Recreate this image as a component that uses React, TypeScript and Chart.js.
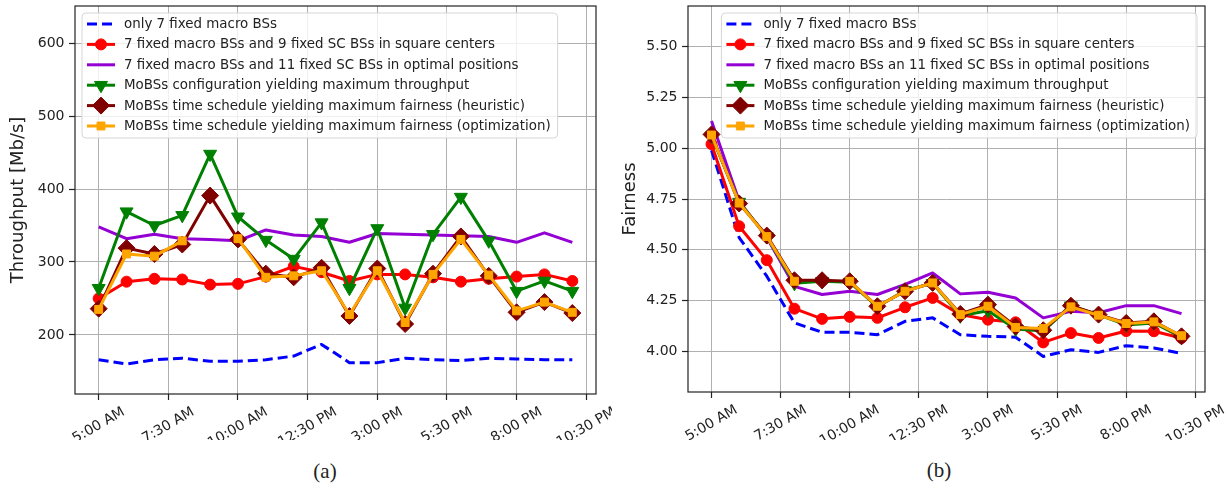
import React, { useEffect, useRef } from "react";
import { Chart, registerables } from "chart.js";

Chart.register(...registerables);

// ---------------- data ----------------
const HOURS = [5, 6, 7, 8, 9, 10, 11, 12, 13, 14, 15, 16, 17, 18, 19, 20, 21, 22];
const TICK_HOURS = [5, 7.5, 10, 12.5, 15, 17.5, 20, 22.5];
const TICK_LABELS = ["5:00 AM", "7:30 AM", "10:00 AM", "12:30 PM", "3:00 PM", "5:30 PM", "8:00 PM", "10:30 PM"];
const TP_TICKS = [200, 300, 400, 500, 600];
const FR_TICKS = [4.0, 4.25, 4.5, 4.75, 5.0, 5.25, 5.5];

const LABELS_A = [
  "only 7 fixed macro BSs",
  "7 fixed macro BSs and 9 fixed SC BSs in square centers",
  "7 fixed macro BSs and 11 fixed SC BSs in optimal positions",
  "MoBSs configuration yielding maximum throughput",
  "MoBSs time schedule yielding maximum fairness (heuristic)",
  "MoBSs time schedule yielding maximum fairness (optimization)",
];
const LABELS_B = [
  "only 7 fixed macro BSs",
  "7 fixed macro BSs and 9 fixed SC BSs in square centers",
  "7 fixed macro BSs an 11 fixed SC BSs in optimal positions",
  "MoBSs configuration yielding maximum throughput",
  "MoBSs time schedule yielding maximum fairness (heuristic)",
  "MoBSs time schedule yielding maximum fairness (optimization)",
];

// Throughput [Mb/s]
const TP_MACRO = [166, 160, 166, 168, 164, 164, 166, 171, 187, 162, 162, 168, 166, 165, 168, 167, 166, 166];
const TP_SQUARE = [250, 273, 277, 276, 269, 270, 280, 294, 286, 274, 283, 283, 279, 273, 277, 280, 283, 274];
const TP_OPTIMAL = [348, 332, 338, 332, 331, 329, 344, 337, 335, 327, 339, 338, 337, 336, 335, 327, 340, 327];
const TP_CONFIG = [264, 369, 350, 364, 448, 362, 330, 304, 354, 264, 346, 237, 338, 389, 329, 260, 274, 260];
const TP_HEUR = [236, 319, 311, 324, 391, 331, 284, 279, 292, 226, 291, 215, 284, 335, 281, 231, 245, 230];
const TP_OPT = [235, 311, 308, 329, null, 332, 279, 281, 288, 228, 288, 217, 283, 331, 282, 233, 245, 231];

// Fairness
const FR_MACRO = [4.99, 4.56, 4.37, 4.14, 4.094, 4.094, 4.082, 4.148, 4.165, 4.082, 4.074, 4.07, 3.975, 4.008, 3.995, 4.028, 4.017, 3.99];
const FR_SQUARE = [5.02, 4.616, 4.449, 4.21, 4.16, 4.17, 4.165, 4.217, 4.263, 4.181, 4.156, 4.143, 4.044, 4.09, 4.066, 4.1, 4.099, 4.066];
const FR_OPTIMAL = [5.134, 4.74, 4.56, 4.32, 4.28, 4.296, 4.28, 4.33, 4.386, 4.283, 4.291, 4.263, 4.165, 4.197, 4.19, 4.225, 4.225, 4.186];
const FR_CONFIG = [5.06, 4.735, 4.565, 4.335, 4.345, 4.34, 4.22, 4.3, 4.335, 4.175, 4.2, 4.11, 4.1, 4.225, 4.18, 4.13, 4.14, 4.07];
const FR_HEUR = [5.068, 4.728, 4.57, 4.35, 4.35, 4.345, 4.222, 4.296, 4.337, 4.184, 4.23, 4.123, 4.104, 4.225, 4.181, 4.14, 4.148, 4.074];
const FR_OPT = [5.065, 4.73, 4.565, 4.345, null, 4.345, 4.222, 4.296, 4.337, 4.181, 4.222, 4.118, 4.113, 4.219, 4.178, 4.137, 4.145, 4.077];

// ---------------- styles ----------------
const FONT = '"DejaVu Sans", sans-serif';
const TEXT = "#222222";
const GRID = "#b0b0b0";

type Style = { color: string; dash?: number[]; point?: string; r?: number; rot?: number };
const STYLES: Style[] = [
  { color: "#0000ff", dash: [10, 5] },
  { color: "#ff0000", point: "circle", r: 5.5 },
  { color: "#9400d3" },
  { color: "#008000", point: "triangle", r: 7.5, rot: 180 },
  { color: "#800000", point: "rectRot", r: 8.5 },
  { color: "#ffa500", point: "rect", r: 5.6 },
];

function drawMarker(ctx: CanvasRenderingContext2D, st: Style, x: number, y: number) {
  if (!st.point) return;
  const r = st.r || 5;
  ctx.beginPath();
  if (st.point === "circle") {
    ctx.arc(x, y, r, 0, Math.PI * 2);
  } else if (st.point === "triangle") {
    ctx.moveTo(x, y + r);
    ctx.lineTo(x - r * Math.sin(Math.PI / 3), y - r / 2);
    ctx.lineTo(x + r * Math.sin(Math.PI / 3), y - r / 2);
    ctx.closePath();
  } else if (st.point === "rectRot") {
    ctx.moveTo(x, y - r);
    ctx.lineTo(x + r, y);
    ctx.lineTo(x, y + r);
    ctx.lineTo(x - r, y);
    ctx.closePath();
  } else if (st.point === "rect") {
    const s = Math.SQRT1_2 * r;
    ctx.rect(x - s, y - s, 2 * s, 2 * s);
  }
  ctx.fillStyle = st.color;
  ctx.strokeStyle = st.color;
  ctx.lineWidth = 1;
  ctx.setLineDash([]);
  ctx.fill();
  ctx.stroke();
}

const LEGEND_FONT = `13.4px ${FONT}`;

const mplPlugin = {
  id: "mpl",
  afterDraw(chart: any, _args: any, opts: any) {
    const { ctx, chartArea: ca } = chart;
    const xs = chart.scales.x;
    ctx.save();
    // frame
    ctx.strokeStyle = TEXT;
    ctx.lineWidth = 1.2;
    ctx.setLineDash([]);
    ctx.strokeRect(ca.left, ca.top, ca.right - ca.left, ca.bottom - ca.top);

    // rotated x tick labels (centered like matplotlib)
    ctx.font = `14px ${FONT}`;
    ctx.fillStyle = TEXT;
    ctx.textAlign = "center";
    ctx.textBaseline = "middle";
    xs.ticks.forEach((t: any) => {
      const idx = TICK_HOURS.indexOf(t.value);
      if (idx < 0) return;
      const label = TICK_LABELS[idx];
      const px = xs.getPixelForValue(t.value);
      const w = ctx.measureText(label).width;
      const h = 14;
      const bh = w * 0.5 + h * 0.866;
      const cy = ca.bottom + 11 + bh / 2;
      ctx.save();
      ctx.translate(px, cy);
      ctx.rotate(-Math.PI / 6);
      ctx.fillText(label, 0, 0);
      ctx.restore();
    });

    // legend
    const labels: string[] = chart.data.datasets.map((d: any) => d.label);
    ctx.font = LEGEND_FONT;
    const maxW = Math.max(...labels.map((l) => ctx.measureText(l).width));
    const boxW = 42 + maxW + 7;
    const boxH = 125;
    const bx = opts.anchor === "left" ? ca.left + 7 : ca.right - 8 - boxW;
    const by = ca.top + 7;
    ctx.beginPath();
    if ((ctx as any).roundRect) (ctx as any).roundRect(bx, by, boxW, boxH, 4);
    else ctx.rect(bx, by, boxW, boxH);
    ctx.fillStyle = "rgba(255,255,255,0.8)";
    ctx.fill();
    ctx.strokeStyle = "#d6d6d6";
    ctx.lineWidth = 1;
    ctx.stroke();
    labels.forEach((label, k) => {
      const st = STYLES[k];
      const y = by + 11 + k * 20.4;
      ctx.beginPath();
      ctx.setLineDash(st.dash || []);
      ctx.strokeStyle = st.color;
      ctx.lineWidth = 3;
      ctx.moveTo(bx + 5, y);
      ctx.lineTo(bx + 33, y);
      ctx.stroke();
      ctx.setLineDash([]);
      drawMarker(ctx, st, bx + 19, y);
      ctx.fillStyle = TEXT;
      ctx.textAlign = "left";
      ctx.textBaseline = "middle";
      ctx.font = LEGEND_FONT;
      ctx.fillText(label, bx + 42, y + 0.5);
    });
    ctx.restore();
  },
};

function makeDatasets(labels: string[], series: (number | null)[][]) {
  return series.map((vals, i) => {
    const st = STYLES[i];
    return {
      label: labels[i],
      data: HOURS.map((h, k) => ({ x: h, y: vals[k] })),
      borderColor: st.color,
      backgroundColor: st.color,
      borderWidth: 3,
      borderDash: st.dash || [],
      borderJoinStyle: "round",
      pointStyle: st.point || "circle",
      pointRadius: st.point ? st.r : 0,
      pointRotation: st.rot || 0,
      pointBackgroundColor: st.color,
      pointBorderColor: st.color,
      pointBorderWidth: 1,
      pointHoverRadius: st.point ? st.r : 0,
      tension: 0,
      spanGaps: false,
      order: 10 - i,
    };
  });
}

type Cfg = {
  width: number;
  height: number;
  areaLeft: number;
  areaRight: number;
  areaTop: number;
  areaBottom: number;
  yMin: number;
  yMax: number;
  yTicks: number[];
  yFmt: (v: number) => string;
  yTitle: string;
  titlePad: number;
  labels: string[];
  series: (number | null)[][];
  anchor: "left" | "right";
};

function buildConfig(c: Cfg): any {
  const grid = { color: GRID, lineWidth: 1, tickColor: TEXT, tickLength: 6, tickWidth: 1.2, drawTicks: true };
  return {
    type: "line",
    data: { datasets: makeDatasets(c.labels, c.series) },
    plugins: [mplPlugin],
    options: {
      animation: false,
      responsive: false,
      devicePixelRatio: 1,
      events: [],
      layout: { autoPadding: false, padding: { top: c.areaTop, right: c.width - c.areaRight, left: 0, bottom: 0 } },
      plugins: {
        legend: { display: false },
        tooltip: { enabled: false },
        mpl: { anchor: c.anchor },
      },
      scales: {
        x: {
          type: "linear",
          min: 4.15,
          max: 22.85,
          afterBuildTicks: (s: any) => {
            s.ticks = TICK_HOURS.map((v) => ({ value: v }));
          },
          ticks: { display: false },
          grid,
          border: { display: false },
          afterFit: (s: any) => {
            s.height = c.height - c.areaBottom;
            s.paddingLeft = 0;
            s.paddingRight = 0;
            s.paddingTop = 0;
            s.paddingBottom = 0;
          },
        },
        y: {
          type: "linear",
          min: c.yMin,
          max: c.yMax,
          afterBuildTicks: (s: any) => {
            s.ticks = c.yTicks.map((v) => ({ value: v }));
          },
          ticks: {
            font: { family: FONT, size: 14 },
            color: TEXT,
            padding: 4.5,
            callback: (v: number) => c.yFmt(v),
          },
          grid,
          border: { display: false },
          title: {
            display: true,
            text: c.yTitle,
            font: { family: FONT, size: 18 },
            color: TEXT,
            padding: { top: c.titlePad, bottom: 0 },
          },
          afterFit: (s: any) => {
            s.width = c.areaLeft;
            s.paddingTop = 0;
            s.paddingBottom = 0;
            s.paddingLeft = 0;
            s.paddingRight = 0;
          },
        },
      },
    },
  };
}

function ChartCanvas({ cfg, left }: { cfg: Cfg; left: number }) {
  const ref = useRef<HTMLCanvasElement | null>(null);
  useEffect(() => {
    if (!ref.current) return;
    const chart = new Chart(ref.current, buildConfig(cfg));
    return () => chart.destroy();
  }, []);
  return (
    <canvas
      ref={ref}
      width={cfg.width}
      height={cfg.height}
      style={{ position: "absolute", left, top: 0, width: cfg.width, height: cfg.height }}
    />
  );
}

const CFG_A: Cfg = {
  width: 612,
  height: 440,
  areaLeft: 75,
  areaRight: 596,
  areaTop: 6,
  areaBottom: 394,
  yMin: 119,
  yMax: 651,
  yTicks: TP_TICKS,
  yFmt: (v) => String(v),
  yTitle: "Throughput [Mb/s]",
  titlePad: 8,
  labels: LABELS_A,
  series: [TP_MACRO, TP_SQUARE, TP_OPTIMAL, TP_CONFIG, TP_HEUR, TP_OPT],
  anchor: "left",
};

const CFG_B: Cfg = {
  width: 615,
  height: 440,
  areaLeft: 76,
  areaRight: 593,
  areaTop: 6,
  areaBottom: 392,
  yMin: 3.8,
  yMax: 5.7,
  yTicks: FR_TICKS,
  yFmt: (v) => v.toFixed(2),
  yTitle: "Fairness",
  titlePad: 8,
  labels: LABELS_B,
  series: [FR_MACRO, FR_SQUARE, FR_OPTIMAL, FR_CONFIG, FR_HEUR, FR_OPT],
  anchor: "right",
};

const captionStyle: React.CSSProperties = {
  position: "absolute",
  transform: "translate(-50%, -50%)",
  fontFamily: '"Liberation Serif", "Times New Roman", serif',
  fontSize: 21,
  color: TEXT,
  whiteSpace: "nowrap",
};

export default function App() {
  return (
    <div style={{ position: "absolute", left: 0, top: 0, width: 1227, height: 489, background: "#fff", overflow: "hidden" }}>
      <ChartCanvas cfg={CFG_A} left={0} />
      <ChartCanvas cfg={CFG_B} left={612} />
      <div style={{ ...captionStyle, left: 325, top: 471 }}>(a)</div>
      <div style={{ ...captionStyle, left: 939, top: 470 }}>(b)</div>
    </div>
  );
}
